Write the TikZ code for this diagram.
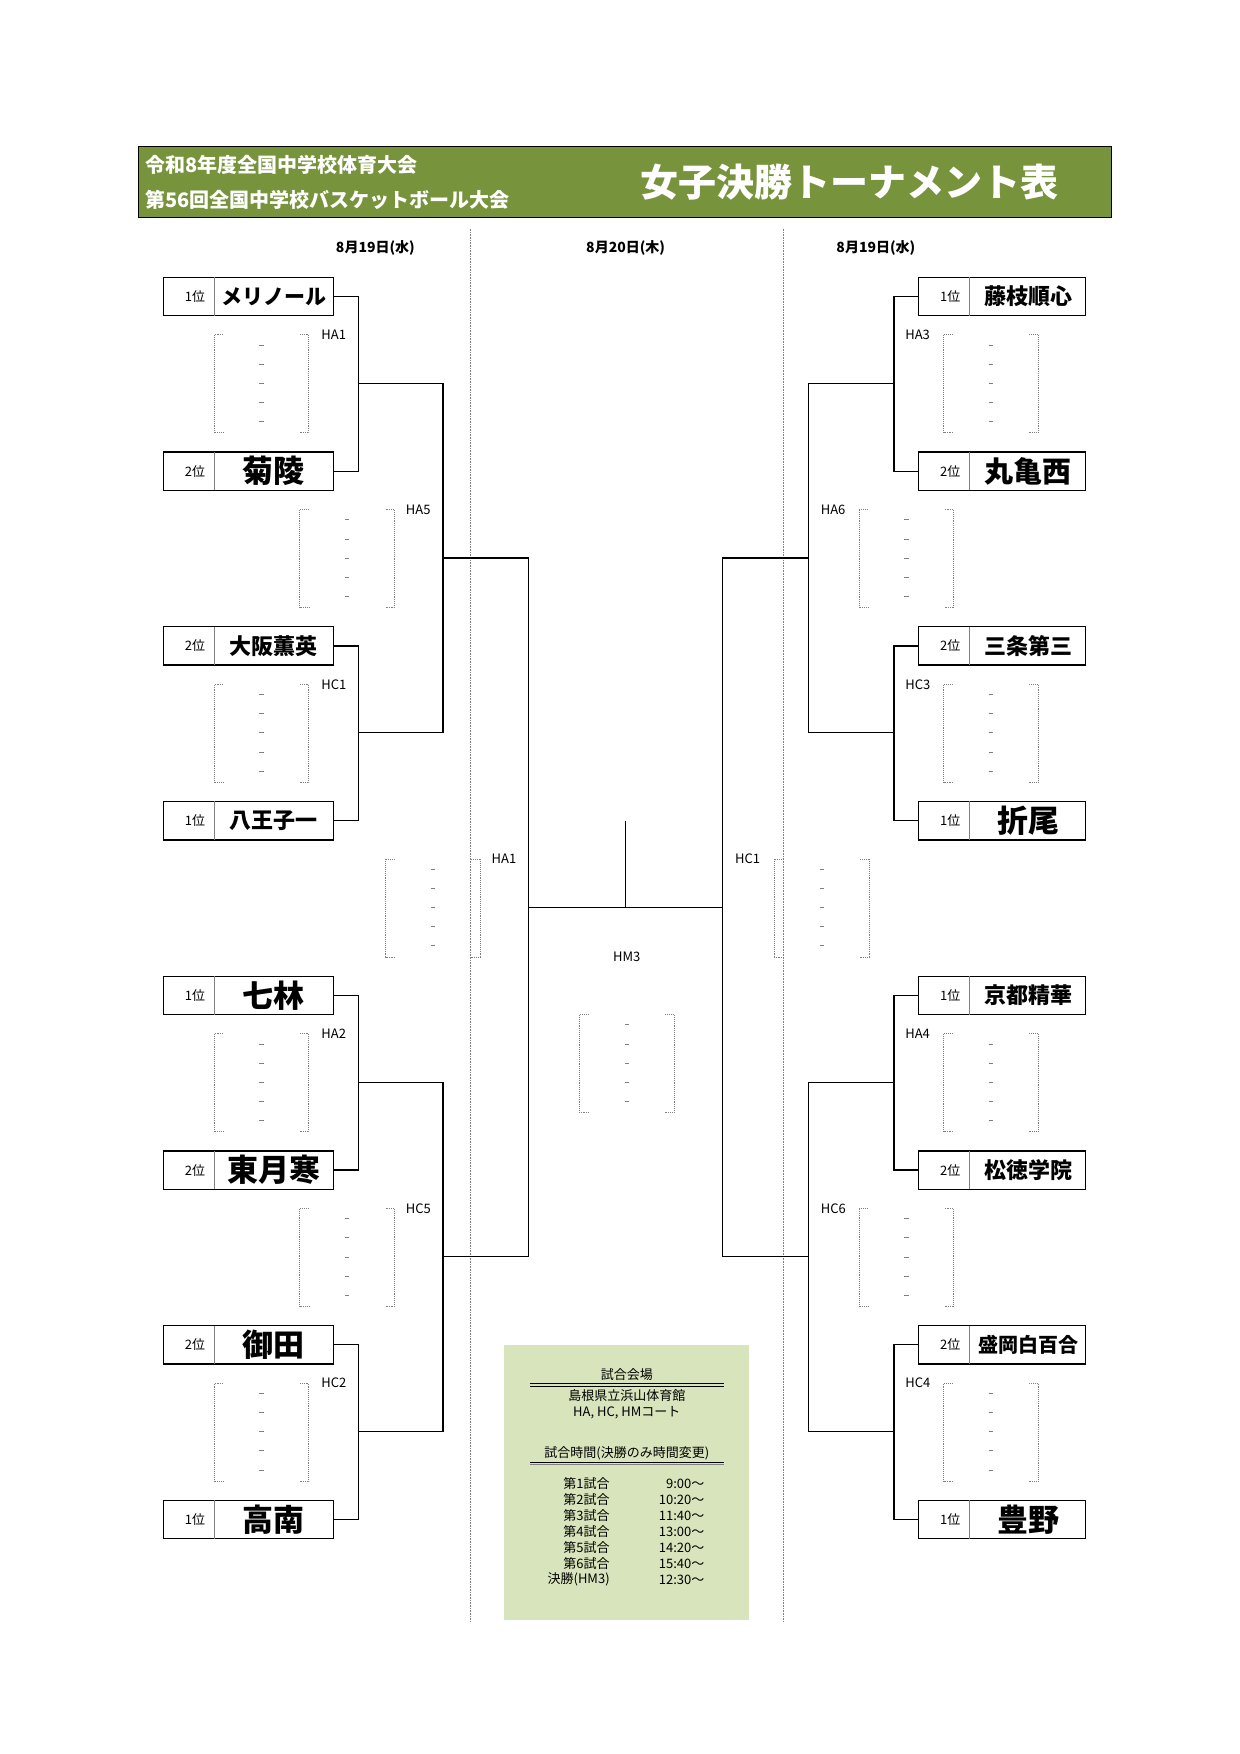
\documentclass[tikz,border=0pt]{standalone}
\usepackage{fontspec}
\setmainfont{Noto Sans CJK JP}
\definecolor{hdr}{RGB}{119,147,60}
\definecolor{infobg}{RGB}{215,228,188}
\newcommand\fs[1]{\fontsize{#1pt}{#1pt}\selectfont}
\newcommand\teamL[5]{% name, y, rank, text, size
  \draw[box] (145,#2-17) rectangle (296,#2+17);
  \draw[div] (190,#2-17) -- (190,#2+17);
  \node[rank] (#1r) at (173,#2) {#3};
  \node[font=\fs{#5}\bfseries] (#1) at (243,#2) {#4};
  \coordinate (#1o) at (296,#2);}
\newcommand\teamR[5]{%
  \draw[box] (815,#2-17) rectangle (963,#2+17);
  \draw[div] (860,#2-17) -- (860,#2+17);
  \node[rank] (#1r) at (843,#2) {#3};
  \node[font=\fs{#5}\bfseries] (#1) at (912,#2) {#4};
  \coordinate (#1o) at (815,#2);}
\newcommand\score[2]{%
  \draw[sc] (#1+8,#2) -- (#1,#2) -- (#1,#2+87) -- (#1+8,#2+87);
  \draw[sc] (#1+76,#2) -- (#1+84,#2) -- (#1+84,#2+87) -- (#1+76,#2+87);
  \foreach \k in {0,...,4} \draw[gray,line width=0.6pt] (#1+40,#2+9+17*\k) -- (#1+44,#2+9+17*\k);}
\begin{document}
\begin{tikzpicture}[x=1.1273pt,y=-1.1273pt,
  box/.style={line width=1.4pt},
  div/.style={gray,line width=0.8pt},
  rank/.style={font=\fs{13}},
  ln/.style={line width=1.2pt},
  sc/.style={gray,densely dotted,line width=0.9pt},
  lab/.style={font=\fs{13},anchor=west},
  date/.style={font=\fs{14}\bfseries}]
\useasboundingbox (0,0) rectangle (1100,1556);
% header
\draw[fill=hdr,line width=1.2pt] (123,130) rectangle (986,193);
\node[anchor=west,text=white,font=\fs{20}\bfseries] (h1) at (126,146) {令和8年度全国中学校体育大会};
\node[anchor=west,text=white,font=\fs{20}\bfseries] (h2) at (126,177) {第56回全国中学校バスケットボール大会};
\node[text=white,font=\fs{38}\bfseries] (title) at (754,162) {女子決勝トーナメント表};
% dotted columns
\draw[gray,densely dotted,line width=0.6pt] (417,203) -- (417,1438);
\draw[gray,densely dotted,line width=0.6pt] (695,203) -- (695,1438);
\node[date] (d1) at (333,220) {8月19日(水)};
\node[date] (d2) at (555,220) {8月20日(木)};
\node[date] (d3) at (777,220) {8月19日(水)};
% teams
\teamL{L1}{263}{1位}{メリノール}{21}
\teamL{L2}{418}{2位}{菊陵}{31}
\teamL{L3}{573}{2位}{大阪薫英}{22}
\teamL{L4}{728}{1位}{八王子一}{22}
\teamL{L5}{883}{1位}{七林}{31}
\teamL{L6}{1038}{2位}{東月寒}{31}
\teamL{L7}{1193}{2位}{御田}{31}
\teamL{L8}{1348}{1位}{高南}{31}
\teamR{R1}{263}{1位}{藤枝順心}{22}
\teamR{R2}{418}{2位}{丸亀西}{29}
\teamR{R3}{573}{2位}{三条第三}{22}
\teamR{R4}{728}{1位}{折尾}{31}
\teamR{R5}{883}{1位}{京都精華}{22}
\teamR{R6}{1038}{2位}{松徳学院}{22}
\teamR{R7}{1193}{2位}{盛岡白百合}{20}
\teamR{R8}{1348}{1位}{豊野}{31}
% left bracket
\draw[ln] (L1o) -- (318,263) -- (318,418) -- (L2o);
\draw[ln] (L3o) -- (318,573) -- (318,728) -- (L4o);
\draw[ln] (L5o) -- (318,883) -- (318,1038) -- (L6o);
\draw[ln] (L7o) -- (318,1193) -- (318,1348) -- (L8o);
\draw[ln] (318,340) -- (393,340) -- (393,650) -- (318,650);
\draw[ln] (318,960) -- (393,960) -- (393,1270) -- (318,1270);
\draw[ln] (393,495) -- (469,495) -- (469,1115) -- (393,1115);
% right bracket
\draw[ln] (R1o) -- (793,263) -- (793,418) -- (R2o);
\draw[ln] (R3o) -- (793,573) -- (793,728) -- (R4o);
\draw[ln] (R5o) -- (793,883) -- (793,1038) -- (R6o);
\draw[ln] (R7o) -- (793,1193) -- (793,1348) -- (R8o);
\draw[ln] (793,340) -- (717,340) -- (717,650) -- (793,650);
\draw[ln] (793,960) -- (717,960) -- (717,1270) -- (793,1270);
\draw[ln] (717,495) -- (641,495) -- (641,1115) -- (717,1115);
% final
\coordinate (fin) at (555,805);
\coordinate (top) at (555,728);
\draw[ln] (469,805) -- (641,805);
\draw[ln] (fin) -- (top);
% labels
\node[lab] (a1) at (282,297) {HA1};
\node[lab] (a5) at (357,452) {HA5};
\node[lab] (c1) at (282,607) {HC1};
\node[lab] (a1b) at (433,762) {HA1};
\node[lab] (a2) at (282,917) {HA2};
\node[lab] (c5) at (357,1072) {HC5};
\node[lab] (c2) at (282,1227) {HC2};
\node[lab] (a3) at (800,297) {HA3};
\node[lab] (a6) at (725,452) {HA6};
\node[lab] (c3) at (800,607) {HC3};
\node[lab] (c1b) at (649,762) {HC1};
\node[lab] (a4) at (800,917) {HA4};
\node[lab] (c6) at (725,1072) {HC6};
\node[lab] (c4) at (800,1227) {HC4};
\node[font=\fs{13}] (m3) at (556,849) {HM3};
% score brackets
\score{190}{297}\score{266}{452}\score{190}{607}\score{342}{762}
\score{190}{917}\score{266}{1072}\score{190}{1227}
\score{837}{297}\score{762}{452}\score{837}{607}\score{687}{762}
\score{837}{917}\score{762}{1072}\score{837}{1227}
\score{514}{900}
% info box
\fill[infobg] (447,1193) rectangle (664,1437);
\node[font=\fs{13}] (i1) at (556,1219) {試合会場};
\draw[line width=0.5pt] (470,1227) -- (642,1227);
\draw[line width=0.5pt] (470,1229.5) -- (642,1229.5);
\node[font=\fs{13}] (i2) at (556,1238) {島根県立浜山体育館};
\node[font=\fs{13}] (i3) at (556,1253) {HA, HC, HMコート};
\node[font=\fs{13}] (i4) at (556,1289) {試合時間(決勝のみ時間変更)};
\draw[line width=0.5pt] (470,1297) -- (642,1297);
\draw[line width=1.2pt,gray] (470,1299.5) -- (642,1299.5);
\foreach \a/\b [count=\i from 0] in {第1試合/9:00～,第2試合/10:20～,第3試合/11:40～,第4試合/13:00～,第5試合/14:20～,第6試合/15:40～,決勝(HM3)/12:30～}{
  \node[font=\fs{13},anchor=east,inner sep=0pt] (s\i) at (541,1316+14.2*\i) {\a};
  \node[font=\fs{13},anchor=east,inner sep=0pt] (t\i) at (625,1316+14.2*\i) {\b};
}
\end{tikzpicture}
\end{document}
